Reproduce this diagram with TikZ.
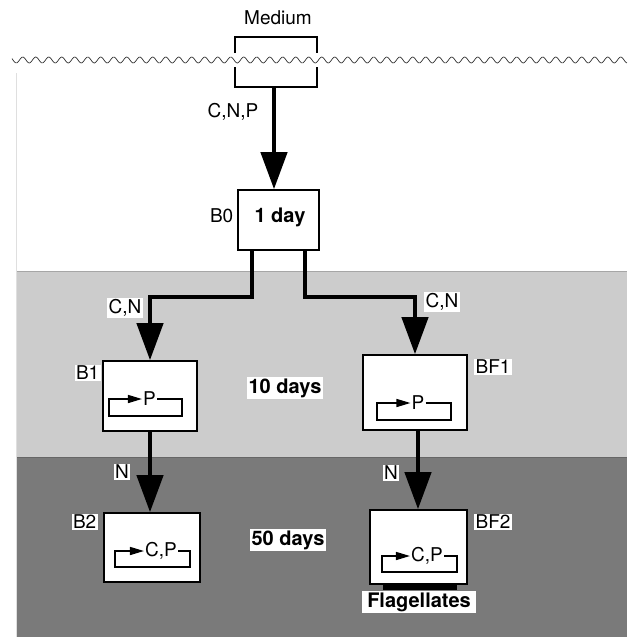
\documentclass[tikz,border=0pt]{standalone}
\usepackage{fontspec}
\setmainfont{TeX Gyre Heros}
\usetikzlibrary{arrows.meta,calc}
\definecolor{lightband}{RGB}{204,204,204}
\definecolor{darkband}{RGB}{122,122,122}
\tikzset{
  box/.style={draw=black, line width=1.6pt, fill=white, inner sep=0pt},
  flow/.style={line width=4.3pt, -{Triangle[width=26pt,length=37pt]}},
  loop/.style={line width=1.5pt, -{Triangle[width=8pt,length=14pt]}},
  lbl/.style={fill=white, inner sep=1.5pt, font=\fontsize{19}{21}\selectfont},
  blbl/.style={fill=white, inner sep=2pt, font=\fontsize{20}{22}\selectfont\bfseries},
  intext/.style={inner sep=1pt, font=\fontsize{19}{21}\selectfont},
}
\begin{document}
\begin{tikzpicture}[x=1pt,y=-1pt]
\useasboundingbox (0,0) rectangle (627,637);
% bands
\fill[white] (0,0) rectangle (627,637);
\fill[lightband] (16,271) rectangle (627,457);
\fill[darkband] (16,457) rectangle (627,637);
\draw[gray!70, line width=0.8pt] (16,271) -- (627,271);
\draw[black!60, line width=0.8pt] (16,457) -- (627,457);
\draw[gray!25, line width=1pt] (16,73) -- (16,637);
% wave
\draw[black!80, line width=0.7pt] plot[domain=12:627, samples=500] (\x, {60+3*sin(360*mod(\x,13)/13)});
% medium brackets
\node[intext] (med) at (278,18) {Medium};
\draw[line width=1.4pt] (235,53) -- (235,37) -- (317,37) -- (317,53);
\draw[line width=1.4pt] (235,67) -- (235,87) -- (317,87) -- (317,67);
\coordinate (medb) at (274,87);
% boxes
\node[box, minimum width=81pt, minimum height=60pt] (B0) at (278.5,220) {};
\node[intext, font=\fontsize{20}{22}\selectfont\bfseries] (t0) at (280,217) {1 day};
\node[box, minimum width=94pt, minimum height=70pt] (B1) at (150,396) {};
\node[box, minimum width=104pt, minimum height=75pt] (BF1) at (415,392.5) {};
\node[box, minimum width=96pt, minimum height=69pt] (B2) at (152,547.5) {};
\node[box, minimum width=97pt, minimum height=74pt] (BF2) at (418.5,547) {};
% flagellates bar
\fill[black] (383,584) rectangle (457,590);
% main arrows
\draw[flow] (medb) -- (medb |- B0.north);
\coordinate (jl) at (150,297);
\coordinate (jr) at (415,297);
\draw[flow] ([xshift=-26.5pt]B0.south) |- (jl) -- (B1.north);
\draw[flow] ([xshift=26.5pt]B0.south) |- (jr) -- (BF1.north);
\draw[flow] (B1.south) -- (B1.south |- B2.north);
\draw[flow] ([xshift=3pt]BF1.south) -- ([xshift=3pt]BF1.south |- BF2.north);
% inner loops
\node[intext] (p1) at (149.5,399) {P};
\draw[loop] (p1.east) -- (182,399) -- (182,416) -- (109,416) -- (109,399) -- (p1.west);
\node[intext] (p2) at (418,403) {P};
\draw[loop] (p2.east) -- (451,403) -- (451,420) -- (377,420) -- (377,403) -- (p2.west);
\node[intext] (p3) at (161,551) {C,P};
\draw[loop] (p3.east) -- (190,551) -- (190,567) -- (115,567) -- (115,551) -- (p3.west);
\node[intext] (p4) at (427,556) {C,P};
\draw[loop] (p4.east) -- (457,556) -- (457,572) -- (382,572) -- (382,556) -- (p4.west);
% labels
\node[intext] (cnp) at (233,112) {C,N,P};
\node[lbl, fill=none, anchor=east] (lb0) at (235,216) {B0};
\node[lbl] (cnl) at (125,308) {C,N};
\node[lbl] (cnr) at (442,302) {C,N};
\node[lbl, anchor=east] (lb1) at (101,373) {B1};
\node[blbl] (d10) at (285,388) {10 days};
\node[lbl] (lbf1) at (493,367) {BF1};
\node[lbl] (nl) at (122,472) {N};
\node[lbl] (nr) at (391,473) {N};
\node[lbl, anchor=east] (lb2) at (98,522) {B2};
\node[blbl] (d50) at (288,540) {50 days};
\node[lbl] (lbf2) at (493,522) {BF2};
\node[blbl, inner xsep=5pt] (flag) at (419,602) {Flagellates};
\end{tikzpicture}
\end{document}
